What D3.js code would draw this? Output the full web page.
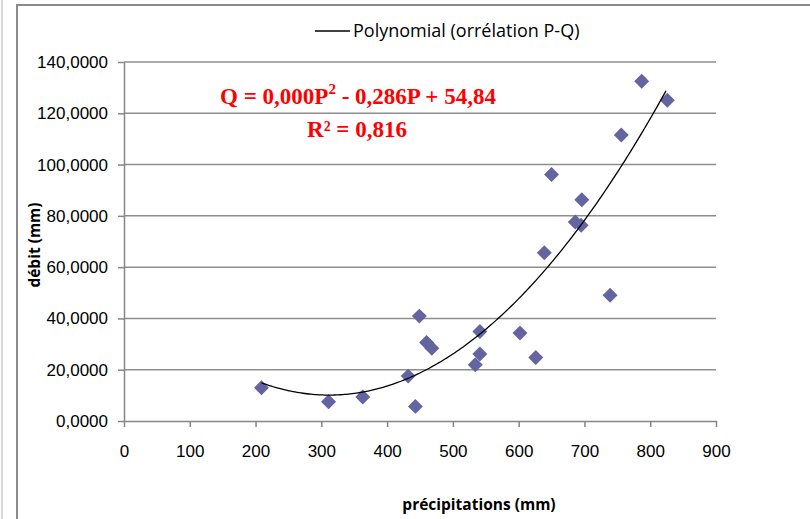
<!DOCTYPE html>
<html>
<head>
<meta charset="utf-8">
<script src="https://cdn.jsdelivr.net/npm/d3@7"></script>
<style>
  body { margin: 0; background: #fff; }
  svg { display: block; font-family: "Open Sans", sans-serif; }
  .axis path, .axis line { stroke: #868686; stroke-width: 1.5; }
  .axis text { fill: #000; font-size: 17px; }
  .grid line { stroke: #8e8e8e; stroke-width: 1.5; }
  .eq { font-family: "Liberation Serif", "Times New Roman", serif; font-weight: bold; fill: #ff0000; font-size: 23px; }
</style>
</head>
<body>
<div class="chart"></div>
<script>
// precipitation P (mm) and discharge Q (mm)
const precip = [209, 311, 363, 432, 443, 449, 460, 468, 541, 541, 534, 602, 626, 639, 650, 686, 695, 696, 739, 756, 787, 826]
const debit  = [13.0, 7.5, 9.4, 17.5, 5.7, 40.9, 30.6, 28.4, 34.9, 26.1, 21.9, 34.3, 24.8, 65.6, 96.1, 77.6, 76.3, 86.3, 49.0, 111.5, 132.5, 125.1]
const xTicks = [0, 100, 200, 300, 400, 500, 600, 700, 800, 900]
const yTicks = [0, 20, 40, 60, 80, 100, 120, 140]

const width = 810, height = 519
const margin = {top: 62, right: 94, bottom: 98, left: 124}

const data = precip.map((p, i) => ({p: p, q: debit[i]}))

let x = d3.scaleLinear().domain([0, 900]).range([margin.left, width - margin.right])
let y = d3.scaleLinear().domain([0, 140]).range([height - margin.bottom, margin.top])

let svg = d3.select(".chart").append("svg")
  .attr("width", width)
  .attr("height", height)

// outer frame
svg.append("line").attr("x1", 2).attr("x2", 2).attr("y1", 0).attr("y2", height)
  .attr("stroke", "#b0b0b0").attr("stroke-width", 1)
svg.append("path").attr("d", "M17," + height + "V5H" + width)
  .attr("fill", "none").attr("stroke", "#8a8a8a").attr("stroke-width", 2)

// horizontal gridlines
svg.append("g").attr("class", "grid")
  .selectAll("line").data(yTicks.slice(1)).join("line")
  .attr("x1", x(0)).attr("x2", x(900))
  .attr("y1", d => y(d)).attr("y2", d => y(d))

let fmt = d => d3.format(".4f")(d).replace(".", ",")

svg.append("g").attr("class", "y axis")
  .attr("transform", "translate(" + x(0) + ",0)")
  .call(d3.axisLeft(y).tickValues(yTicks).tickFormat(fmt).tickSizeInner(6).tickSizeOuter(0).tickPadding(10))

svg.append("g").attr("class", "x axis")
  .attr("transform", "translate(0," + y(0) + ")")
  .call(d3.axisBottom(x).tickValues(xTicks).tickSizeInner(6).tickSizeOuter(0).tickPadding(18))

// least squares quadratic trend  Q = a P^2 + b P + c
function polyfit(xs, ys) {
  let s = [0, 0, 0, 0, 0], t = [0, 0, 0]
  xs.forEach((xv, i) => {
    for (let k = 0; k < 5; k++) s[k] += Math.pow(xv, k)
    for (let k = 0; k < 3; k++) t[k] += ys[i] * Math.pow(xv, k)
  })
  let m = [[s[0], s[1], s[2], t[0]], [s[1], s[2], s[3], t[1]], [s[2], s[3], s[4], t[2]]]
  for (let i = 0; i < 3; i++) {
    for (let j = i + 1; j < 3; j++) {
      let f = m[j][i] / m[i][i]
      for (let k = i; k < 4; k++) m[j][k] -= f * m[i][k]
    }
  }
  let c = [0, 0, 0]
  for (let i = 2; i >= 0; i--) {
    let v = m[i][3]
    for (let k = i + 1; k < 3; k++) v -= m[i][k] * c[k]
    c[i] = v / m[i][i]
  }
  return c // [c, b, a]
}

let coef = polyfit(precip, debit)
let trend = d3.range(d3.min(precip), d3.max(precip) + 1, 3).map(p => ({p: p, q: coef[0] + coef[1] * p + coef[2] * p * p}))

let line = d3.line().x(d => x(d.p)).y(d => y(d.q))

svg.append("g").selectAll("path.pt").data(data).join("path")
  .attr("class", "pt")
  .attr("d", d3.symbol(d3.symbolSquare, 112))
  .attr("transform", d => "translate(" + x(d.p) + "," + y(d.q) + ") rotate(45)")
  .attr("fill", "#6464a0")

svg.append("path").datum(trend)
  .attr("d", line)
  .attr("fill", "none")
  .attr("stroke", "#000")
  .attr("stroke-width", 1.3)

// legend
let lg = svg.append("g").attr("transform", "translate(315,31)")
lg.append("line").attr("x1", 0).attr("x2", 35).attr("stroke", "#000").attr("stroke-width", 1.3)
lg.append("text").attr("x", 38).attr("y", 6).attr("font-size", 18).text("Polynomial (orrélation P-Q)")

// equation
let eq = svg.append("text").attr("class", "eq").attr("x", 358).attr("y", 104).attr("text-anchor", "middle")
eq.append("tspan").text("Q = 0,000P")
eq.append("tspan").attr("font-size", 15).attr("dy", -10).text("2")
eq.append("tspan").attr("dy", 10).text(" - 0,286P + 54,84")
svg.append("text").attr("class", "eq").attr("x", 357).attr("y", 137).attr("text-anchor", "middle").text("R² = 0,816")

// axis titles
svg.append("text").attr("x", 479).attr("y", 510).attr("text-anchor", "middle")
  .attr("font-size", 15.5).attr("font-weight", "bold").text("précipitations (mm)")
svg.append("text").attr("transform", "translate(40,245) rotate(-90)").attr("text-anchor", "middle")
  .attr("font-size", 15.5).attr("font-weight", "bold").text("débit (mm)")
</script>
</body>
</html>
